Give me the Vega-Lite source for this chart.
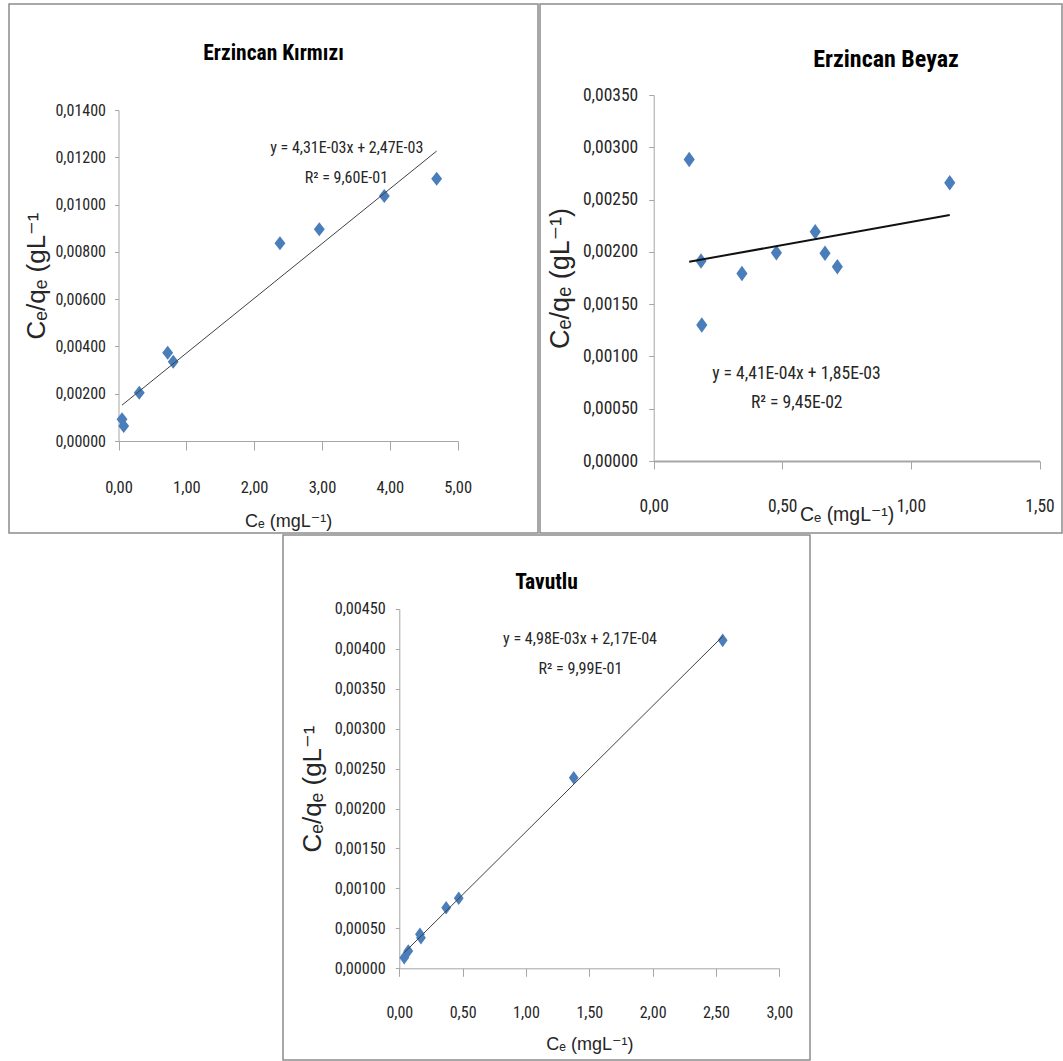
{
  "$schema": "https://vega.github.io/schema/vega-lite/v6.json",
  "padding": {"left": 8, "top": 3, "right": 0, "bottom": 0},
  "background": "white",
  "spacing": 0,
  "datasets": {
    "kirmizi": [
      {"ce": 0.052, "qe": 0.000918}, {"ce": 0.077, "qe": 0.000634}, {"ce": 0.306, "qe": 0.002043},
      {"ce": 0.725, "qe": 0.003734}, {"ce": 0.807, "qe": 0.003354}, {"ce": 2.380, "qe": 0.008361},
      {"ce": 2.960, "qe": 0.008953}, {"ce": 3.918, "qe": 0.010361}, {"ce": 4.690, "qe": 0.011094}
    ],
    "beyaz": [
      {"ce": 0.138, "qe": 0.002884}, {"ce": 0.184, "qe": 0.001912}, {"ce": 0.187, "qe": 0.0013},
      {"ce": 0.343, "qe": 0.001794}, {"ce": 0.477, "qe": 0.001991}, {"ce": 0.628, "qe": 0.002192},
      {"ce": 0.666, "qe": 0.001986}, {"ce": 0.714, "qe": 0.001858}, {"ce": 1.151, "qe": 0.002661}
    ],
    "tavutlu": [
      {"ce": 0.039, "qe": 0.000133}, {"ce": 0.071, "qe": 0.000217}, {"ce": 0.163, "qe": 0.000426},
      {"ce": 0.171, "qe": 0.000383}, {"ce": 0.370, "qe": 0.000758}, {"ce": 0.469, "qe": 0.000876},
      {"ce": 1.377, "qe": 0.002385}, {"ce": 2.553, "qe": 0.004105}
    ],
    "eqA": [
      {"ce": 3.365, "qe": 0.012405, "label": "y = 4,31E-03x + 2,47E-03"},
      {"ce": 3.36, "qe": 0.01111, "label": "R² = 9,60E-01"}
    ],
    "eqB": [
      {"ce": 0.555, "qe": 0.000829, "label": "y = 4,41E-04x + 1,85E-03"},
      {"ce": 0.556, "qe": 0.000557, "label": "R² = 9,45E-02"}
    ],
    "eqC": [
      {"ce": 1.427, "qe": 0.004118, "label": "y = 4,98E-03x + 2,17E-04"},
      {"ce": 1.43, "qe": 0.003742, "label": "R² = 9,99E-01"}
    ]
  },
  "vconcat": [
    {
      "hconcat": [
        {
          "width": 529, "height": 529,
          "view": {"stroke": "#8c8c8c", "strokeWidth": 1.5},
          "title": {"text": "Erzincan Kırmızı", "frame": "group", "anchor": "middle", "offset": -77, "baseline": "alphabetic", "fontSize": 21.5, "font": "Roboto Condensed, Liberation Sans, sans-serif", "fontWeight": "bold", "color": "#000000"},
          "data": {"name": "kirmizi"},
          "layer": [
            {
              "mark": {"type": "point", "shape": "M0,-1L0.78,0L0,1L-0.78,0Z", "filled": true, "size": 196, "color": "#4A7EBB", "opacity": 1},
              "encoding": {
                "x": {"field": "ce", "type": "quantitative",
                  "scale": {"domain": [0, 5], "range": [109.5, 448.7], "nice": false, "zero": false},
                  "axis": {"title": "Cₑ (mgL⁻¹)", "values": [0, 1, 2, 3, 4, 5], "format": ".2f", "offset": -92, "tickSize": 9, "labelFontSize": 16.5, "labelBaseline": "alphabetic", "labelPadding": 42, "titleFontSize": 18, "titleBaseline": "alphabetic", "titleY": 85}},
                "y": {"field": "qe", "type": "quantitative",
                  "scale": {"domain": [0, 0.014], "range": [437, 106], "nice": false, "zero": false},
                  "axis": {"title": "Cₑ/qₑ (gL⁻¹", "values": [0, 0.002, 0.004, 0.006, 0.008, 0.01, 0.012, 0.014], "format": ".5f", "offset": -109.5, "tickSize": 4, "labelPadding": 9, "labelFontSize": 16, "titleFontSize": 26, "titleAngle": 270, "titleBaseline": "alphabetic", "titleX": -74.5}}
              }
            },
            {
              "transform": [{"regression": "qe", "on": "ce"}],
              "mark": {"type": "line", "color": "#404040", "strokeWidth": 1},
              "encoding": {"x": {"field": "ce", "type": "quantitative"}, "y": {"field": "qe", "type": "quantitative"}}
            },
            {
              "data": {"name": "eqA"},
              "mark": {"type": "text", "align": "center", "baseline": "middle", "fontSize": 16, "font": "Roboto Condensed, Liberation Sans, sans-serif", "color": "#262626"},
              "encoding": {"x": {"field": "ce", "type": "quantitative"}, "y": {"field": "qe", "type": "quantitative"}, "text": {"field": "label"}}
            }
          ]
        },
        {
          "width": 522, "height": 529,
          "view": {"stroke": "#8c8c8c", "strokeWidth": 1.5},
          "title": {"text": "Erzincan Beyaz", "frame": "group", "anchor": "middle", "dx": 85, "offset": -87, "baseline": "alphabetic", "fontSize": 24, "font": "Roboto Condensed, Liberation Sans, sans-serif", "fontWeight": "bold", "color": "#000000"},
          "data": {"name": "beyaz"},
          "layer": [
            {
              "mark": {"type": "point", "shape": "M0,-1L0.72,0L0,1L-0.72,0Z", "filled": true, "size": 240, "color": "#4A7EBB", "opacity": 1},
              "encoding": {
                "x": {"field": "ce", "type": "quantitative",
                  "scale": {"domain": [0, 1.5], "range": [113.7, 499.5], "nice": false, "zero": false},
                  "axis": {"title": "Cₑ (mgL⁻¹)", "values": [0, 0.5, 1, 1.5], "format": ".2f", "offset": -72, "tickSize": 8, "domainWidth": 2, "labelFontSize": 17.5, "labelBaseline": "alphabetic", "labelPadding": 42, "titleFontSize": 19.5, "titleBaseline": "alphabetic", "titleY": 59}},
                "y": {"field": "qe", "type": "quantitative",
                  "scale": {"domain": [0, 0.0035], "range": [457, 91], "nice": false, "zero": false},
                  "axis": {"title": "Cₑ/qₑ (gL⁻¹)", "values": [0, 0.0005, 0.001, 0.0015, 0.002, 0.0025, 0.003, 0.0035], "format": ".5f", "offset": -113.7, "tickSize": 5, "labelPadding": 11, "labelFontSize": 17.5, "titleFontSize": 27, "titleAngle": 270, "titleBaseline": "alphabetic", "titleX": -85.7}}
              }
            },
            {
              "transform": [{"regression": "qe", "on": "ce"}],
              "mark": {"type": "line", "color": "#111111", "strokeWidth": 2},
              "encoding": {"x": {"field": "ce", "type": "quantitative"}, "y": {"field": "qe", "type": "quantitative"}}
            },
            {
              "data": {"name": "eqB"},
              "mark": {"type": "text", "align": "center", "baseline": "middle", "fontSize": 17.6, "font": "Roboto Condensed, Liberation Sans, sans-serif", "color": "#262626"},
              "encoding": {"x": {"field": "ce", "type": "quantitative"}, "y": {"field": "qe", "type": "quantitative"}, "text": {"field": "label"}}
            }
          ]
        }
      ],
      "spacing": 2,
      "bounds": "flush"
    },
    {
      "hconcat": [
        {
          "width": 272, "height": 10,
          "view": {"stroke": null},
          "data": {"values": []},
          "mark": "point",
          "encoding": {}
        },
        {
          "width": 527, "height": 525,
          "view": {"stroke": "#8c8c8c", "strokeWidth": 1.5},
          "title": {"text": "Tavutlu", "frame": "group", "anchor": "middle", "offset": -75, "baseline": "alphabetic", "fontSize": 21.5, "font": "Roboto Condensed, Liberation Sans, sans-serif", "fontWeight": "bold", "color": "#000000"},
          "data": {"name": "tavutlu"},
          "layer": [
            {
              "mark": {"type": "point", "shape": "M0,-1L0.72,0L0,1L-0.72,0Z", "filled": true, "size": 185, "color": "#4A7EBB", "opacity": 1},
              "encoding": {
                "x": {"field": "ce", "type": "quantitative",
                  "scale": {"domain": [0, 3], "range": [116.3, 496.3], "nice": false, "zero": false},
                  "axis": {"title": "Cₑ (mgL⁻¹)", "values": [0, 0.5, 1, 1.5, 2, 2.5, 3], "format": ".2f", "offset": -91.7, "tickSize": 8, "labelFontSize": 16, "labelBaseline": "alphabetic", "labelPadding": 40.7, "titleFontSize": 18, "titleBaseline": "alphabetic", "titleY": 80.7}},
                "y": {"field": "qe", "type": "quantitative",
                  "scale": {"domain": [0, 0.0045], "range": [433.3, 73.8], "nice": false, "zero": false},
                  "axis": {"title": "Cₑ/qₑ (gL⁻¹", "values": [0, 0.0005, 0.001, 0.0015, 0.002, 0.0025, 0.003, 0.0035, 0.004, 0.0045], "format": ".5f", "offset": -116.3, "tickSize": 4, "labelPadding": 10, "labelFontSize": 16.2, "titleFontSize": 26, "titleAngle": 270, "titleBaseline": "alphabetic", "titleX": -78.7}}
              }
            },
            {
              "transform": [{"regression": "qe", "on": "ce"}],
              "mark": {"type": "line", "color": "#404040", "strokeWidth": 1},
              "encoding": {"x": {"field": "ce", "type": "quantitative"}, "y": {"field": "qe", "type": "quantitative"}}
            },
            {
              "data": {"name": "eqC"},
              "mark": {"type": "text", "align": "center", "baseline": "middle", "fontSize": 16.1, "font": "Roboto Condensed, Liberation Sans, sans-serif", "color": "#262626"},
              "encoding": {"x": {"field": "ce", "type": "quantitative"}, "y": {"field": "qe", "type": "quantitative"}, "text": {"field": "label"}}
            }
          ]
        }
      ],
      "spacing": 2,
      "bounds": "flush"
    }
  ],
  "config": {
    "locale": {"number": {"decimal": ",", "thousands": ".", "grouping": [3], "currency": ["", " €"]}},
    "axis": {
      "grid": false,
      "labelFlush": false,
      "labelOverlap": false,
      "domainColor": "#a6a6a6",
      "tickColor": "#a6a6a6",
      "labelColor": "#262626",
      "titleColor": "#262626",
      "titleFontWeight": "normal",
      "labelFont": "Roboto Condensed, Liberation Sans, sans-serif",
      "titleFont": "Liberation Sans, Arial, DejaVu Sans, sans-serif"
    }
  }
}
